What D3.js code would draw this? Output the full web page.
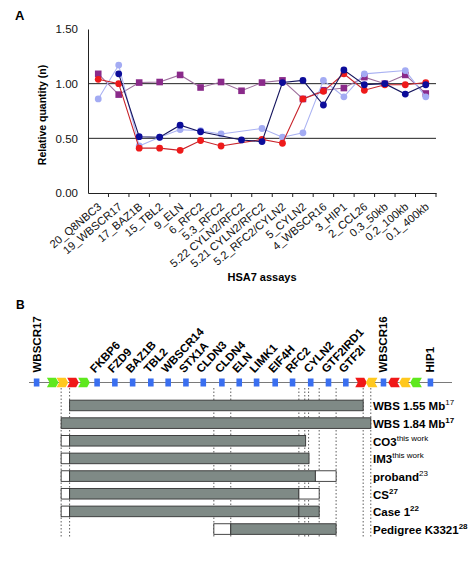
<!DOCTYPE html>
<html><head><meta charset="utf-8">
<script src="https://cdn.jsdelivr.net/npm/d3@7/dist/d3.min.js"></script>
<style>body{margin:0;background:#fff}svg{display:block}text{font-family:"Liberation Sans",Arial,sans-serif}</style>
</head><body>
<script>
// ---------- Panel A data ----------
const categories = ["20_Q8NBC3","19_WBSCR17","17_BAZ1B","15_TBL2","9_ELN","6_RFC2","5.3_RFC2","5.22 CYLN2/RFC2","5.21 CYLN2/RFC2","5.2_RFC2/CYLN2","5_CYLN2","4_WBSCR16","3_HIP1","2_CCL26","0.3_50kb","0.2_100kb","0.1_400kb"];
const controlValues   = [1.09,0.90,1.01,1.015,1.08,0.965,1.015,0.935,1.01,1.03,0.86,0.94,0.96,1.06,1.00,1.08,0.91];
const lightBlueValues = [0.86,1.17,0.43,0.51,0.58,0.57,0.54,null,0.59,0.51,0.55,1.03,0.88,1.09,null,1.12,0.88];
const redValues       = [1.04,1.00,0.41,0.41,0.39,0.48,0.43,null,0.49,0.455,0.86,0.93,1.09,0.94,0.99,0.99,1.01];
const darkBlueValues  = [null,1.09,0.515,0.51,0.62,0.56,null,0.485,0.47,1.01,1.03,0.805,1.125,0.99,1.00,0.905,0.99];
const yTicks = [0,0.5,1.0,1.5];
const gridValues = [0.5,1.0];

// ---------- Panel B data ----------
const geneNames = ["WBSCR17","FKBP6","FZD9","BAZ1B","TBL2","WBSCR14","STX1A","CLDN3","CLDN4","ELN","LIMK1","EIF4H","RFC2","CYLN2","GTF2IRD1","GTF2I","WBSCR16","HIP1"];
const genePos   = [1.8,16.1,20.3,24.5,28.8,32.9,37.1,41.2,45.6,49.7,53.8,58.2,62.3,66.6,70.8,74.9,83.8,94.9];
const geneVertical = [true,false,false,false,false,false,false,false,false,false,false,false,false,false,false,false,true,true];
const repeatPos  = [5.6,7.9,10.4,13.0,78.5,81.0,86.3,88.9,91.5];
const repeatType = ["green","yellow","red","green","red","yellow","red","yellow","green"];
const repeatDir  = [1,1,1,1,1,-1,-1,-1,-1];
const breakpoints = [7.6,9.6,43.7,47.7,63.8,65.2,66.1,68.6,72.6,79.0,80.8];
const deletionNames = ["WBS 1.55 Mb","WBS 1.84 Mb","CO3","IM3","proband","CS","Case 1","Pedigree K3321"];
const deletionRefs  = ["17","17","this work","this work","23","27","22","28"];
const refBold       = [false,true,false,false,false,true,true,true];
// segments: [start, end, kind] kind g=deleted (grey), w=uncertain (white)
const deletionSegments = [
  [[9.6,79.0,"g"]],
  [[7.6,80.8,"g"]],
  [[7.6,9.6,"w"],[9.6,65.4,"g"]],
  [[7.6,9.6,"w"],[9.6,66.2,"g"]],
  [[7.6,9.6,"w"],[9.6,67.7,"g"],[67.7,72.6,"w"]],
  [[7.6,9.6,"w"],[9.6,63.8,"g"],[63.8,68.6,"w"]],
  [[7.6,9.6,"w"],[9.6,63.8,"g"],[63.8,68.6,"g"]],
  [[43.7,47.7,"w"],[47.7,72.6,"g"]]
];

const W = 476, H = 578;
const svg = d3.select("body").append("svg").attr("width",W).attr("height",H);

// ================= Panel A =================
const x = d3.scaleBand().domain(categories).range([88,436]);
const cx = c => x(c) + x.bandwidth()/2;
const y = d3.scaleLinear().domain([0,1.5]).range([193,29]);

svg.append("text").attr("x",15).attr("y",20).attr("font-weight","bold").attr("font-size",13).text("A");

// gridlines
svg.selectAll("line.grid").data(gridValues).enter().append("line")
  .attr("x1",88).attr("x2",436).attr("y1",d=>y(d)).attr("y2",d=>y(d))
  .attr("stroke","#222").attr("stroke-width",1);
// y axis
const yAxis = d3.axisLeft(y).tickValues(yTicks).tickSize(0).tickPadding(10).tickFormat(d3.format(".2f"));
const gy = svg.append("g").attr("transform","translate(88,0)").call(yAxis);
gy.select(".domain").attr("stroke","#222");
gy.selectAll("text").attr("font-size",11.5).attr("fill","#111");
// x axis
const xAxis = d3.axisBottom(x).tickSize(0).tickPadding(0);
const gx = svg.append("g").attr("transform","translate(0,193)").call(xAxis);
gx.select(".domain").attr("stroke","#222");
gx.selectAll("text").attr("font-size",11.2).attr("fill","#111")
  .attr("text-anchor","end")
  .attr("transform","translate(4,15) rotate(-40)")
  .attr("dy",0);
// boundary ticks
const bounds = categories.slice(1).map(c=>x(c)).concat([x.range()[1]]);
gx.selectAll("line.bt").data(bounds).enter().append("line")
  .attr("x1",d=>d).attr("x2",d=>d).attr("y1",0).attr("y2",4).attr("stroke","#222");

svg.append("text").attr("transform","translate(46,115) rotate(-90)").attr("text-anchor","middle")
  .attr("font-weight","bold").attr("font-size",10.5).text("Relative quantity (n)");
svg.append("text").attr("x",262).attr("y",281).attr("text-anchor","middle")
  .attr("font-weight","bold").attr("font-size",11).text("HSA7 assays");

const series = [
  {vals:controlValues, line:"#9c6e9c", fill:"#8a2a8a", shape:"square"},
  {vals:lightBlueValues, line:"#aab2f2", fill:"#a3abf3", shape:"circle"},
  {vals:redValues, line:"#c8232a", fill:"#ee1a1a", shape:"circle"},
  {vals:darkBlueValues, line:"#15155e", fill:"#0c0c9a", shape:"circle"}
];
const line = d3.line().defined(d=>d.v!=null).x(d=>cx(d.c)).y(d=>y(d.v));
series.forEach(s=>{
  const pts = categories.map((c,i)=>({c, v:s.vals[i]}));
  const def = pts.filter(p=>p.v!=null);
  svg.append("path").datum(def).attr("d",line).attr("fill","none").attr("stroke",s.line).attr("stroke-width",1.1);
  if (s.shape==="square"){
    svg.selectAll(null).data(def).enter().append("rect")
      .attr("x",d=>cx(d.c)-3.3).attr("y",d=>y(d.v)-3.3).attr("width",6.6).attr("height",6.6).attr("fill",s.fill);
  } else {
    svg.selectAll(null).data(def).enter().append("circle")
      .attr("cx",d=>cx(d.c)).attr("cy",d=>y(d.v)).attr("r",3.4).attr("fill",s.fill);
  }
});

// ================= Panel B =================
svg.append("text").attr("x",16).attr("y",309).attr("font-weight","bold").attr("font-size",12).text("B");
const m = d3.scaleLinear().domain([0,100]).range([29,452]);
const lineY = 382.5;
// dashed breakpoint lines
svg.selectAll(null).data(breakpoints).enter().append("line")
  .attr("x1",d=>m(d)).attr("x2",d=>m(d)).attr("y1",388).attr("y2",538)
  .attr("stroke","#333").attr("stroke-width",0.8).attr("stroke-dasharray","1.5,2");
svg.append("line").attr("x1",m(0)).attr("x2",m(100)).attr("y1",lineY).attr("y2",lineY)
  .attr("stroke","#7a7a7a").attr("stroke-width",1.2);
const repCol = {green:"#5ee81e", yellow:"#ffc81e", red:"#f01818"};
repeatPos.forEach((p,i)=>{
  const c = m(p), d = repeatDir[i], w=5.8, h=4.8, tip=2.6;
  const path = d>0
    ? `M${c-w},${lineY-h}L${c+w-tip},${lineY-h}L${c+w},${lineY}L${c+w-tip},${lineY+h}L${c-w},${lineY+h}L${c-w+tip},${lineY}Z`
    : `M${c+w},${lineY-h}L${c-w+tip},${lineY-h}L${c-w},${lineY}L${c-w+tip},${lineY+h}L${c+w},${lineY+h}L${c+w-tip},${lineY}Z`;
  svg.append("path").attr("d",path).attr("fill",repCol[repeatType[i]]);
});
svg.selectAll(null).data(genePos).enter().append("rect")
  .attr("x",d=>m(d)-2.8).attr("y",lineY-4).attr("width",5.6).attr("height",8).attr("fill","#3a6ff0");
geneNames.forEach((g,i)=>{
  const gxp = m(genePos[i]);
  if (geneVertical[i]) {
    svg.append("text").attr("transform",`translate(${gxp+4},${lineY-10}) rotate(-90)`)
      .attr("font-weight","bold").attr("font-size",11.5).text(g);
  } else {
    svg.append("text").attr("transform",`translate(${gxp-2},${lineY-9}) rotate(-47)`)
      .attr("font-weight","bold").attr("font-size",11.5).text(g);
  }
});
// deletion bars
const rows = d3.scaleBand().domain(deletionNames).range([401-3.5,537]).paddingInner(0.4).paddingOuter(0.15);
deletionNames.forEach((n,i)=>{
  const yy = rows(n), hh = rows.bandwidth();
  deletionSegments[i].forEach(s=>{
    svg.append("rect").attr("x",m(s[0])).attr("y",yy).attr("width",m(s[1])-m(s[0])).attr("height",hh)
      .attr("fill", s[2]==="g" ? "#7f8a86" : "#ffffff").attr("stroke","#333").attr("stroke-width",0.9);
  });
  const t = svg.append("text").attr("x",373).attr("y",yy+hh-0.5).attr("font-weight","bold").attr("font-size",11.5).text(n);
  t.append("tspan").attr("dy",-5).attr("font-size",8).attr("font-weight",refBold[i]?"bold":"normal").text(deletionRefs[i]);
});
</script>
</body></html>
